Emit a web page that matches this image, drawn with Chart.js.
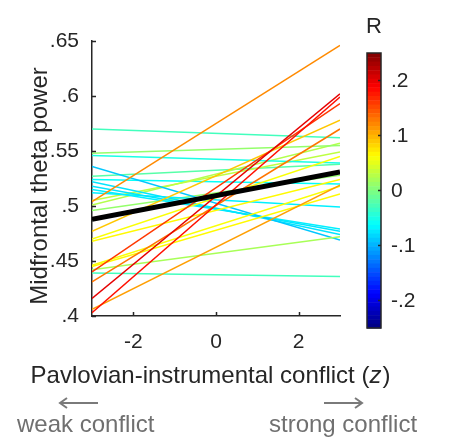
<!DOCTYPE html>
<html>
<head>
<meta charset="utf-8">
<script src="https://cdn.jsdelivr.net/npm/chart.js@4"></script>
<style>
  body { margin: 0; background: #fff; }
  #wrap { width: 474px; height: 444px; }
</style>
</head>
<body>
<div id="wrap"><canvas id="thetaChart" width="474" height="444"></canvas></div>
<script>
// x positions of each subject line (z-scored conflict)
const xEnds = [-3, 3];

// Midfrontal theta power per subject at x = -3 and x = 3
const startValues = [0.504, 0.416, 0.403, 0.440, 0.477, 0.431, 0.406,
                     0.470, 0.468, 0.446, 0.445,
                     0.442, 0.439, 0.570, 0.548, 0.546, 0.536, 0.522, 0.518,
                     0.515, 0.512, 0.505, 0.501, 0.496, 0.527, 0.524];
const endValues   = [0.646, 0.602, 0.599, 0.593, 0.578, 0.570, 0.519,
                     0.545, 0.524, 0.518, 0.511,
                     0.472, 0.436, 0.562, 0.555, 0.539, 0.469, 0.474, 0.477,
                     0.479, 0.499, 0.549, 0.557, 0.528, 0.538, 0.520];
// correlation R for each subject (sets the line colour)
const corrValues  = [0.12, 0.20, 0.18, 0.16, 0.09, 0.13, 0.11,
                     0.06, 0.065, 0.06, 0.065,
                     0.02, -0.03, -0.03, 0.01, -0.05, -0.09, -0.075, -0.075,
                     -0.07, -0.07, 0.03, 0.025, 0.01, -0.02, -0.06];

// group fit
const fitValues = [0.488, 0.531];

const xTickValues = [-2, 0, 2];
const yTickValues = [0.4, 0.45, 0.5, 0.55, 0.6, 0.65];
const cbarTicks = [-0.2, -0.1, 0, 0.1, 0.2];
const cbarMin = -0.25, cbarMax = 0.25;

const FONT = "'Liberation Sans', Arial, Helvetica, sans-serif";
const AXIS_COLOR = '#262626';

function jet(v) {
  let t = (v - cbarMin) / (cbarMax - cbarMin);
  t = Math.min(1, Math.max(0, t));
  const c = (x) => Math.round(255 * Math.min(1, Math.max(0, x)));
  const r = c(1.5 - Math.abs(4 * t - 3));
  const g = c(1.5 - Math.abs(4 * t - 2));
  const b = c(1.5 - Math.abs(4 * t - 1));
  return 'rgb(' + r + ',' + g + ',' + b + ')';
}

function noLeadingZero(v) {
  return String(v).replace(/^(-?)0\./, '$1.');
}

// black fit line first so it is drawn on top
const datasets = [{
  data: xEnds.map((x, i) => ({ x: x, y: fitValues[i] })),
  borderColor: '#000',
  borderWidth: 5,
  pointRadius: 0
}];
startValues.forEach((s, i) => {
  datasets.push({
    data: [{ x: xEnds[0], y: s }, { x: xEnds[1], y: endValues[i] }],
    borderColor: jet(corrValues[i]),
    borderWidth: 1.5,
    pointRadius: 0
  });
});

// inward ticks, y label, colorbar, x label with italic z, direction arrows
const decor = {
  id: 'decor',
  afterDraw(chart) {
    const ctx = chart.ctx;
    const xs = chart.scales.x, ys = chart.scales.y;
    ctx.save();

    // inward tick marks
    ctx.strokeStyle = AXIS_COLOR;
    ctx.lineWidth = 1.5;
    ctx.beginPath();
    xTickValues.forEach((v) => {
      const px = Math.round(xs.getPixelForValue(v)) + 0.5;
      ctx.moveTo(px, ys.bottom); ctx.lineTo(px, ys.bottom - 4);
    });
    yTickValues.forEach((v) => {
      const py = Math.round(ys.getPixelForValue(v)) + 0.5;
      ctx.moveTo(xs.left, py); ctx.lineTo(xs.left + 4, py);
    });
    ctx.stroke();

    // y label
    ctx.fillStyle = AXIS_COLOR;
    ctx.save();
    ctx.translate(47, 186);
    ctx.rotate(-Math.PI / 2);
    ctx.font = '24px ' + FONT;
    ctx.textAlign = 'center';
    ctx.textBaseline = 'alphabetic';
    ctx.fillText('Midfrontal theta power', 0, 0);
    ctx.restore();

    // x label
    ctx.textBaseline = 'alphabetic';
    ctx.textAlign = 'left';
    const partA = 'Pavlovian-instrumental conflict (';
    const partB = 'z';
    const partC = ')';
    ctx.font = '24px ' + FONT;
    const wA = ctx.measureText(partA).width;
    const wC = ctx.measureText(partC).width;
    ctx.font = 'italic 24px ' + FONT;
    const wB = ctx.measureText(partB).width;
    const x0 = 210 - (wA + wB + wC) / 2;
    ctx.font = '24px ' + FONT;
    ctx.fillText(partA, x0, 383);
    ctx.font = 'italic 24px ' + FONT;
    ctx.fillText(partB, x0 + wA, 383);
    ctx.font = '24px ' + FONT;
    ctx.fillText(partC, x0 + wA + wB + 1, 383);

    // arrows
    ctx.strokeStyle = '#7a7a7a';
    ctx.lineWidth = 2;
    ctx.beginPath();
    ctx.moveTo(60, 403); ctx.lineTo(98, 403);
    ctx.moveTo(67, 398); ctx.lineTo(60, 403); ctx.lineTo(67, 408);
    ctx.moveTo(324, 403); ctx.lineTo(362, 403);
    ctx.moveTo(355, 398); ctx.lineTo(362, 403); ctx.lineTo(355, 408);
    ctx.stroke();
    ctx.fillStyle = '#707070';
    ctx.fillText('weak conflict', 17, 432);
    ctx.fillText('strong conflict', 269, 432);

    // colorbar
    const cbL = 367, cbR = 381, cbT = 53, cbB = 328;
    const n = 64;
    const h = (cbB - cbT) / n;
    for (let k = 0; k < n; k++) {
      const v = cbarMax - (k + 0.5) * (cbarMax - cbarMin) / n;
      ctx.fillStyle = jet(v);
      ctx.fillRect(cbL, cbT + k * h, cbR - cbL, h + 0.5);
    }
    ctx.strokeStyle = AXIS_COLOR;
    ctx.lineWidth = 1.5;
    ctx.strokeRect(cbL, cbT, cbR - cbL, cbB - cbT);
    ctx.fillStyle = AXIS_COLOR;
    ctx.font = '21px ' + FONT;
    ctx.textBaseline = 'middle';
    ctx.textAlign = 'left';
    cbarTicks.forEach((v) => {
      const y = cbT + (cbarMax - v) / (cbarMax - cbarMin) * (cbB - cbT);
      ctx.beginPath();
      ctx.moveTo(cbR, y); ctx.lineTo(cbR - 3, y);
      ctx.stroke();
      ctx.fillText(noLeadingZero(v), 391, y + 1);
    });
    ctx.textAlign = 'center';
    ctx.textBaseline = 'alphabetic';
    ctx.font = '22px ' + FONT;
    ctx.fillText('R', 374, 33);

    ctx.restore();
  }
};

const ctx = document.getElementById('thetaChart').getContext('2d');
const thetaChart = new Chart(ctx, {
  type: 'line',
  data: { datasets: datasets },
  options: {
    responsive: false,
    animation: false,
    color: AXIS_COLOR,
    layout: { padding: { top: 41, right: 134, left: 0, bottom: 0 } },
    plugins: { legend: { display: false }, tooltip: { enabled: false } },
    elements: { line: { tension: 0 } },
    scales: {
      x: {
        type: 'linear',
        min: -3,
        max: 3,
        afterBuildTicks: (scale) => { scale.ticks = xTickValues.map(v => ({ value: v })); },
        afterFit: (scale) => { scale.height = 128; },
        border: { display: true, color: AXIS_COLOR, width: 1.5 },
        grid: { display: false, drawTicks: false },
        ticks: {
          color: AXIS_COLOR,
          font: { family: FONT, size: 21 },
          padding: 14,
          maxRotation: 0,
          callback: (v) => String(v)
        }
      },
      y: {
        type: 'linear',
        min: 0.4,
        max: 0.65,
        afterBuildTicks: (scale) => { scale.ticks = yTickValues.map(v => ({ value: v })); },
        afterFit: (scale) => { scale.width = 92; },
        border: { display: true, color: AXIS_COLOR, width: 1.5 },
        grid: { display: false, drawTicks: false },
        ticks: {
          color: AXIS_COLOR,
          font: { family: FONT, size: 21 },
          padding: 13,
          callback: (v) => noLeadingZero(v)
        }
      }
    }
  },
  plugins: [decor]
});
</script>
</body>
</html>
